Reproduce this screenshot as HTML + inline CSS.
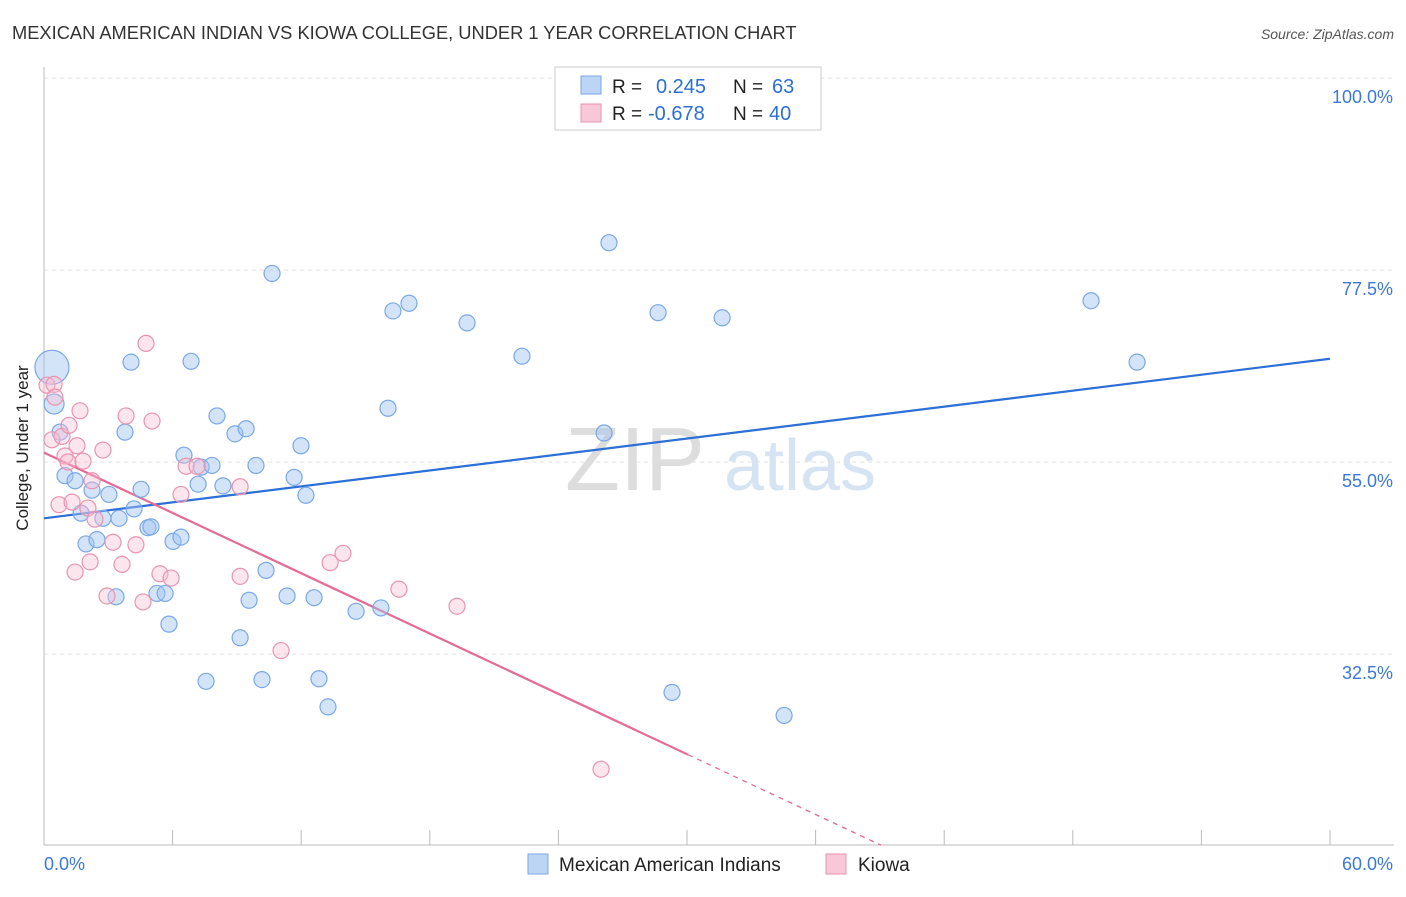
<!DOCTYPE html>
<html><head><meta charset="utf-8">
<style>
body{margin:0;background:#fff;font-family:"Liberation Sans",sans-serif;}
svg text{font-family:"Liberation Sans",sans-serif;}
</style></head>
<body>
<svg id="chart" width="1406" height="892" xmlns="http://www.w3.org/2000/svg">
<text x="12" y="39" font-size="18.3" fill="#333">MEXICAN AMERICAN INDIAN VS KIOWA COLLEGE, UNDER 1 YEAR CORRELATION CHART</text>
<text x="1394" y="39" font-size="14" fill="#555" text-anchor="end" font-style="italic">Source: ZipAtlas.com</text>
<text x="36" y="456" font-size="17" fill="#222" text-anchor="middle" transform="rotate(-90 28 456)">College, Under 1 year</text>
<g>
<text x="635" y="490" font-size="90" fill="#ddd" text-anchor="middle" font-family="Liberation Serif">ZIP</text>
<text x="800" y="490" font-size="72" fill="#d5e3f3" text-anchor="middle">atlas</text>
</g>
<g id="grid"></g><g id="axes"></g><g id="lines"></g><g id="pts"></g>
<g>
<rect x="555" y="67" width="266" height="63" fill="#fff" stroke="#ccc"/>
<rect x="581" y="76" width="20" height="18" fill="#bcd5f5" stroke="#7aa8e6"/>
<text x="612" y="93" font-size="19" fill="#222">R =</text><text x="656" y="93" font-size="20" fill="#2c6fd6">0.245</text>
<text x="733" y="93" font-size="19" fill="#222">N =</text><text x="772" y="93" font-size="20" fill="#2c6fd6">63</text>
<rect x="581" y="104" width="20" height="18" fill="#f8c8d8" stroke="#e894b0"/>
<text x="612" y="120" font-size="19" fill="#222">R =</text><text x="648" y="120" font-size="20" fill="#2c6fd6">-0.678</text>
<text x="733" y="120" font-size="19" fill="#222">N =</text><text x="769" y="120" font-size="20" fill="#2c6fd6">40</text>
</g>
<g>
<rect x="528" y="854" width="20" height="20" fill="#bcd5f5" stroke="#7aa8e6"/>
<text x="559" y="871" font-size="19" fill="#222">Mexican American Indians</text>
<rect x="826" y="854" width="20" height="20" fill="#f8c8d8" stroke="#e894b0"/>
<text x="858" y="871" font-size="19" fill="#222">Kiowa</text>
</g>
</svg>
<script>
const blueX=[0.37,0.47,0.75,0.98,1.45,1.73,1.96,2.24,2.47,2.75,3.03,3.36,3.50,3.78,4.06,4.20,4.53,4.85,4.99,5.27,5.65,5.83,6.02,6.39,6.53,6.86,7.19,7.33,7.56,7.84,8.07,8.35,8.91,9.15,9.43,9.57,9.89,10.17,10.36,10.64,11.34,11.67,11.99,12.22,12.60,12.83,13.25,14.56,15.72,16.05,16.28,17.03,19.74,22.30,26.13,26.36,28.65,29.30,31.64,34.53,48.85,51.00];
const blueY=[66.1,61.8,58.5,53.4,52.8,49.0,45.4,51.7,45.9,48.4,51.2,39.2,48.4,58.5,66.7,49.5,51.8,47.3,47.4,39.6,39.6,36.0,45.7,46.2,55.8,66.8,52.4,54.4,29.3,54.6,60.4,52.2,58.3,34.4,58.9,38.8,54.6,29.5,42.3,77.1,39.3,53.2,56.9,51.1,39.1,29.6,26.3,37.5,37.9,61.3,72.7,73.6,71.3,67.4,58.4,80.7,72.5,28.0,71.9,25.3,73.9,66.7];
const pinkX=[0.14,0.47,0.37,0.51,0.70,0.84,0.98,1.12,1.17,1.31,1.45,1.54,1.68,1.82,2.05,2.15,2.24,2.38,2.75,2.94,3.22,3.64,3.83,4.29,4.62,4.76,5.04,5.41,5.93,6.39,6.63,7.14,9.15,9.15,11.06,13.35,13.95,16.56,19.27,25.99];
const pinkY=[64.0,64.1,57.6,62.6,50.0,58.0,55.7,55.0,59.3,50.3,42.1,56.9,61.0,55.1,49.6,43.3,52.8,48.3,56.4,39.3,45.6,43.0,60.4,45.3,38.6,68.9,59.8,41.9,41.4,51.2,54.5,54.5,52.1,41.6,32.9,43.2,44.3,40.1,38.1,19.0];
const blueTrend=[48.4,67.1];
const pinkTrend=[56.1,-1.178];
const yTicks=[100,77.5,55,32.5];
const NS='http://www.w3.org/2000/svg';
const sx=v=>44+v/60*1286;
const sy=v=>78+(100-v)/22.5*192;
function mk(tag,attrs,parent){const e=document.createElementNS(NS,tag);for(const k in attrs)e.setAttribute(k,attrs[k]);document.getElementById(parent).appendChild(e);return e;}
yTicks.forEach(t=>{
 const l=mk('line',{x1:44,x2:1394,y1:sy(t),y2:sy(t),stroke:'#e0e0e0','stroke-dasharray':'4 4'},'grid');
 
 
 const tx=mk('text',{x:1393,y:sy(t)+25,'font-size':18,fill:'#3b78d8','text-anchor':'end'},'grid');
 tx.textContent=t.toFixed(1)+'%';
 
 
});
let a=mk('line',{x1:44,x2:44,y1:67,y2:845,stroke:'#bbb'},'axes');


a=mk('line',{x1:44,x2:1394,y1:845,y2:845,stroke:'#bbb'},'axes');


for(let i=0;i<=10;i++){
 const t=mk('line',{x1:sx(i*6),x2:sx(i*6),y1:830,y2:845,stroke:'#bbb'},'axes');
 
 
}
[['0.0%',44,'start'],['60.0%',1393,'end']].forEach(d=>{
 const t=mk('text',{x:d[1],y:870,'font-size':18,fill:'#3b78d8','text-anchor':d[2]},'axes');
 t.textContent=d[0];
 
 
});
let ln=mk('line',{x1:sx(0),y1:sy(blueTrend[0]),x2:sx(60),y2:sy(blueTrend[1]),stroke:'#2c6fd6','stroke-width':2.2},'lines');


const pEnd=30.05, pDash=(pinkTrend[0]-10.1)/-pinkTrend[1];
ln=mk('line',{x1:sx(0),y1:sy(pinkTrend[0]),x2:sx(pEnd),y2:sy(pinkTrend[0]+pinkTrend[1]*pEnd),stroke:'#e56a95','stroke-width':2.2},'lines');


ln=mk('line',{x1:sx(pEnd),y1:sy(pinkTrend[0]+pinkTrend[1]*pEnd),x2:sx(pDash),y2:sy(pinkTrend[0]+pinkTrend[1]*pDash),stroke:'#e56a95','stroke-width':1.3,'stroke-dasharray':'5 5'},'lines');


blueX.forEach((x,i)=>{
 const c=mk('circle',{cx:sx(x),cy:sy(blueY[i]),r:i===0?17:(i===1?10:8),fill:'rgba(160,195,240,0.45)',stroke:'#7aa8e6','stroke-width':1.2},'pts');
 
 
});
pinkX.forEach((x,i)=>{
 const c=mk('circle',{cx:sx(x),cy:sy(pinkY[i]),r:8,fill:'rgba(248,190,210,0.4)',stroke:'#e894b0','stroke-width':1.2},'pts');
 
 
});
</script>
</body></html>
